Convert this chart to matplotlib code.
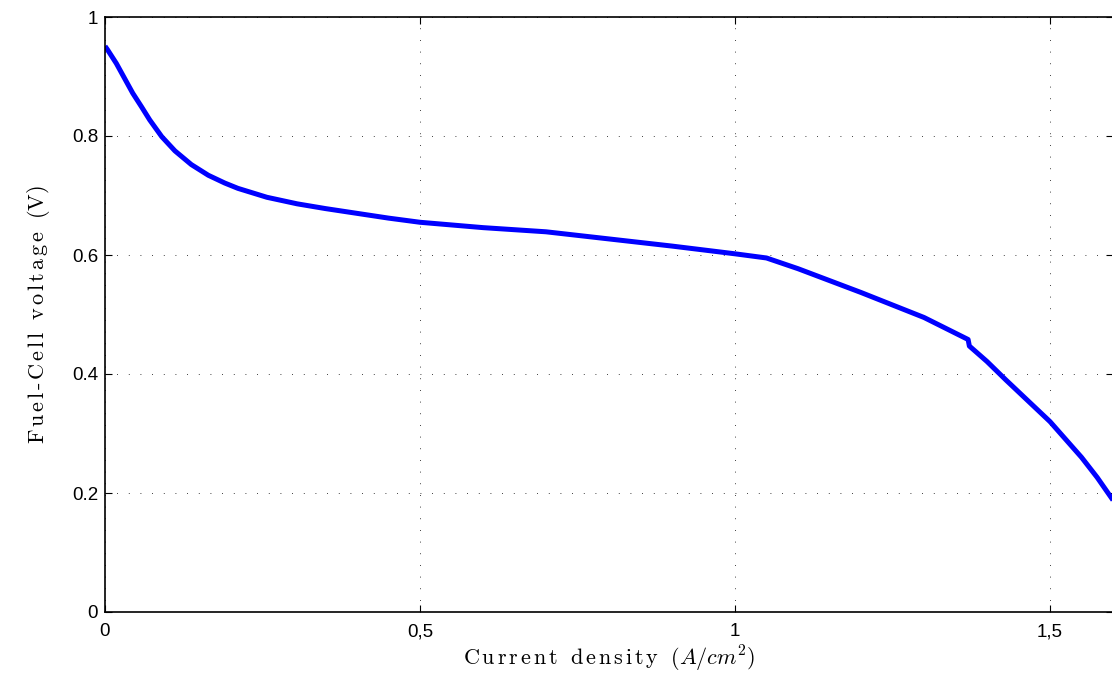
import matplotlib
matplotlib.use('Agg')
import matplotlib.pyplot as plt
import numpy as np

# current density (A/cm^2) and cell voltage (V)
current = [0, 0.004, 0.018, 0.031, 0.044, 0.058, 0.071, 0.090, 0.111, 0.137,
           0.164, 0.190, 0.211, 0.257, 0.305, 0.35, 0.4, 0.45, 0.5, 0.6,
           0.7, 0.8, 0.9, 1.0, 1.05, 1.1, 1.2, 1.3, 1.37, 1.372, 1.4, 1.43,
           1.465, 1.5, 1.55, 1.575, 1.6]
voltage = [0.951, 0.945, 0.922, 0.897, 0.872, 0.849, 0.827, 0.799, 0.775, 0.752,
           0.734, 0.721, 0.712, 0.697, 0.686, 0.678, 0.670, 0.662, 0.655, 0.646,
           0.639, 0.627, 0.615, 0.602, 0.595, 0.577, 0.537, 0.495, 0.458, 0.447,
           0.421, 0.390, 0.355, 0.320, 0.260, 0.226, 0.188]

xticks = [0, 0.5, 1, 1.5]
xticklabels = ['0', '0,5', '1', '1,5']
yticks = [0, 0.2, 0.4, 0.6, 0.8, 1]
yticklabels = ['0', '0.2', '0.4', '0.6', '0.8', '1']


def spaced(txt):
    # letter spacing, like the LaTeX labels in the original
    words = []
    for w in txt.split(' '):
        chars = [r'\text{-}' if c == '-' else c for c in w]
        words.append(r'\hspace{0.15}'.join(chars))
    return r'\ \ '.join(words)


plt.rcParams['mathtext.fontset'] = 'cm'
plt.rcParams['font.family'] = ['Liberation Sans', 'DejaVu Sans']

fig = plt.figure(figsize=(11.12, 6.76), dpi=100)
ax = fig.add_axes([105 / 1112, 64 / 676, 1008 / 1112, 595 / 676])

ax.plot(current, voltage, color='#0000ff', lw=3.6, solid_capstyle='butt')

ax.set_xlim(0, 1.6)
ax.set_ylim(0, 1)
ax.set_xticks(xticks)
ax.set_xticklabels(xticklabels)
ax.set_yticks(yticks)
ax.set_yticklabels(yticklabels)
ax.tick_params(direction='in', length=5, width=0.8, top=True, right=True,
               labelsize=13.5)
ax.tick_params(axis='x', pad=8)
ax.tick_params(axis='y', pad=5)
ax.grid(True, color='black', linestyle=(0, (1, 13)), linewidth=0.6)
for s in ax.spines.values():
    s.set_linewidth(1.2)

ax.set_xlabel(r'$\mathrm{' + spaced('Current density') + r'}\ \ (A/cm^2)$',
              fontsize=16, labelpad=3)
ax.set_ylabel(r'$\mathrm{' + spaced('Fuel-Cell voltage') + r'\ \ (V)}$',
              fontsize=16, labelpad=14)

fig.savefig('out.png', dpi=100)
